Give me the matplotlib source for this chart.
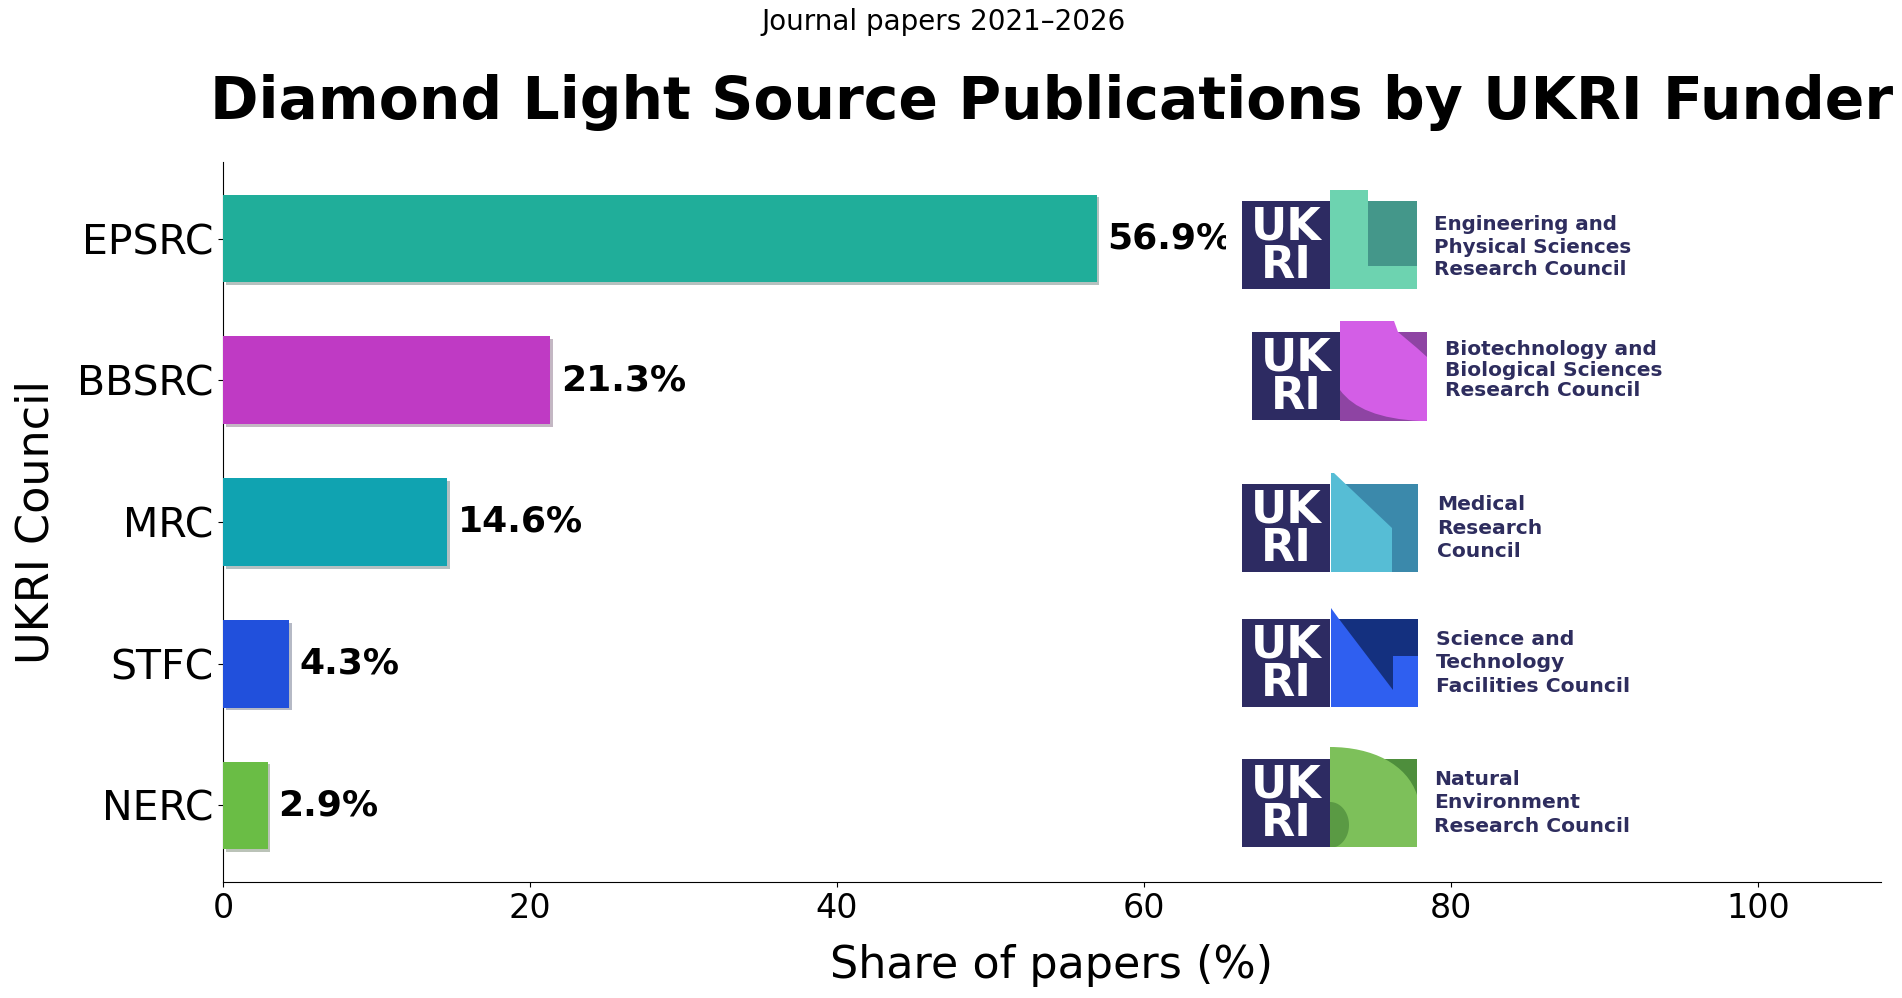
import matplotlib
matplotlib.use('Agg')
import matplotlib.pyplot as plt
import matplotlib.patheffects as pe
from matplotlib.patches import Rectangle, Polygon, PathPatch
from matplotlib.path import Path
import numpy as np

# ---------------- data ----------------
councils = ['EPSRC', 'BBSRC', 'MRC', 'STFC', 'NERC']
shares = [56.9, 21.3, 14.6, 4.3, 2.9]
bar_colors = ['#20ae9a', '#bf3ac4', '#10a3b1', '#2150dc', '#6abd45']
xticks = [0, 20, 40, 60, 80, 100]
logo_lines = {
    'EPSRC': ['Engineering and', 'Physical Sciences', 'Research Council'],
    'BBSRC': ['Biotechnology and', 'Biological Sciences', 'Research Council'],
    'MRC': ['Medical', 'Research', 'Council'],
    'STFC': ['Science and', 'Technology', 'Facilities Council'],
    'NERC': ['Natural', 'Environment', 'Research Council'],
}

W, H = 1902, 998
fig = plt.figure(figsize=(W / 100, H / 100), dpi=100)
ax = fig.add_axes([223 / W, (H - 882) / H, (1881 - 223) / W, (882 - 162) / H])

ypos = np.arange(len(councils))
bars = ax.barh(ypos, shares, height=0.62, color=bar_colors, zorder=3)
for b in bars:
    b.set_path_effects([pe.SimplePatchShadow(offset=(2, -2)), pe.Normal()])
for yi, v in zip(ypos, shares):
    ax.text(v + 0.7, yi, f'{v}%', va='center', ha='left', fontsize=26,
            fontweight='bold', zorder=4)

ax.set_xlim(0, 108)
ax.set_ylim(4.54, -0.54)
ax.set_yticks(ypos)
ax.set_yticklabels(councils, fontsize=29.5)
ax.set_xticks(xticks)
ax.set_xticklabels([str(t) for t in xticks], fontsize=24)
ax.spines['top'].set_visible(False)
ax.spines['right'].set_visible(False)
ax.set_xlabel('Share of papers (%)', fontsize=32, labelpad=14)
ax.set_ylabel('UKRI Council', fontsize=32, labelpad=14)
ax.set_title('Diamond Light Source Publications by UKRI Funder', fontsize=42,
             fontweight='bold', pad=31)
fig.text(944 / W, 1 - 22 / H, 'Journal papers 2021\u20132026', ha='center',
         va='center', fontsize=20)

# ---------------- logos (overlay in pixel coordinates) ----------------
ov = fig.add_axes([0, 0, 1, 1], zorder=10)
ov.set_xlim(0, W)
ov.set_ylim(H, 0)
ov.axis('off')

NAVY = '#2d2b62'
TXT = '#2e2d5e'


def poly(x0, y0, pts, color):
    ov.add_patch(Polygon([(x0 + px, y0 + py) for px, py in pts], closed=True,
                         facecolor=color, edgecolor='none'))


def curve_patch(x0, y0, verts, codes, color):
    ov.add_patch(PathPatch(Path([(x0 + a, y0 + b) for a, b in verts], codes),
                           facecolor=color, edgecolor='none'))


def ukri(x0, y0):
    ov.add_patch(Rectangle((x0, y0), 88, 88, facecolor=NAVY, edgecolor='none'))
    ov.text(x0 + 44, y0 + 45, 'UK\nRI', color='white', fontsize=32,
            fontweight='bold', ha='center', va='center', linespacing=0.86,
            family='DejaVu Sans')


def texts(x, y0, rel_ys, lines, fs):
    spacing = (rel_ys[2] - rel_ys[0]) / 2
    ov.text(x, y0 + rel_ys[1], '\n'.join(lines), color=TXT, fontsize=fs,
            fontweight='bold', ha='left', va='center', family='DejaVu Sans',
            linespacing=spacing / (0.9 * fs * 100 / 72))


# white image backgrounds
for (bx, by) in [(1226, 185), (1236, 316), (1226, 468), (1226, 603), (1226, 742)]:
    ov.add_patch(Rectangle((bx, by), 420, 118, facecolor='white', edgecolor='none'))

# EPSRC
x0, y0 = 1242, 201
poly(x0, y0, [(88, -11), (126, -11), (126, 0), (175, 0), (175, 88), (88, 88)], '#6dd3b0')
poly(x0, y0, [(126, 0), (175, 0), (175, 65), (126, 65)], '#44978a')
ukri(x0, y0)
texts(1434, y0, [24, 46, 67], logo_lines['EPSRC'], 14.3)

# BBSRC
x0, y0 = 1252, 332
poly(x0, y0, [(88, 0), (175, 0), (175, 89), (88, 89)], '#8e44a3')
M, L, C = Path.MOVETO, Path.LINETO, Path.CURVE3
curve_patch(x0, y0,
            [(88, -11), (142, -11), (146, 0), (165, 16), (175, 25), (175, 89),
             (168, 89), (108, 86), (88, 58), (88, -11)],
            [M, L, L, L, L, L, L, C, C, Path.CLOSEPOLY], '#d35ee6')
ukri(x0, y0)
texts(1445, y0, [18, 38, 59], logo_lines['BBSRC'], 14.5)

# MRC
x0, y0 = 1242, 484
poly(x0, y0, [(89, 0), (176, 0), (176, 88), (89, 88)], '#3b89ab')
poly(x0, y0, [(89, -11), (92, -11), (150, 44), (150, 88), (89, 88)], '#56bdd5')
ukri(x0, y0)
texts(1437, y0, [20, 44, 68], logo_lines['MRC'], 14.6)

# STFC
x0, y0 = 1242, 619
poly(x0, y0, [(89, -11), (89, 88), (176, 88), (176, 0), (97, 0)], '#2f5ff0')
poly(x0, y0, [(97, 0), (176, 0), (176, 37), (151, 37), (151, 71)], '#14307f')
ukri(x0, y0)
texts(1436, y0, [20, 44, 68], logo_lines['STFC'], 14.7)

# NERC
x0, y0 = 1242, 759
poly(x0, y0, [(88, 0), (175, 0), (175, 88), (88, 88)], '#4e8e3c')
C4 = Path.CURVE4
curve_patch(x0, y0,
            [(88, -12), (130, -12), (165, 5), (175, 36), (175, 88), (88, 88), (88, -12)],
            [M, C4, C4, C4, L, L, Path.CLOSEPOLY], '#7dc05a')
th = np.linspace(-np.pi / 2, np.pi / 2, 40)
half = [(88 + 19 * np.cos(t), 66 + 23 * np.sin(t)) for t in th]
half = [(a, min(b, 88)) for a, b in half]
poly(x0, y0, half, '#5a9a44')
ukri(x0, y0)
texts(1434, y0, [20, 44, 68], logo_lines['NERC'], 14.6)

fig.savefig('out.png', dpi=100)
